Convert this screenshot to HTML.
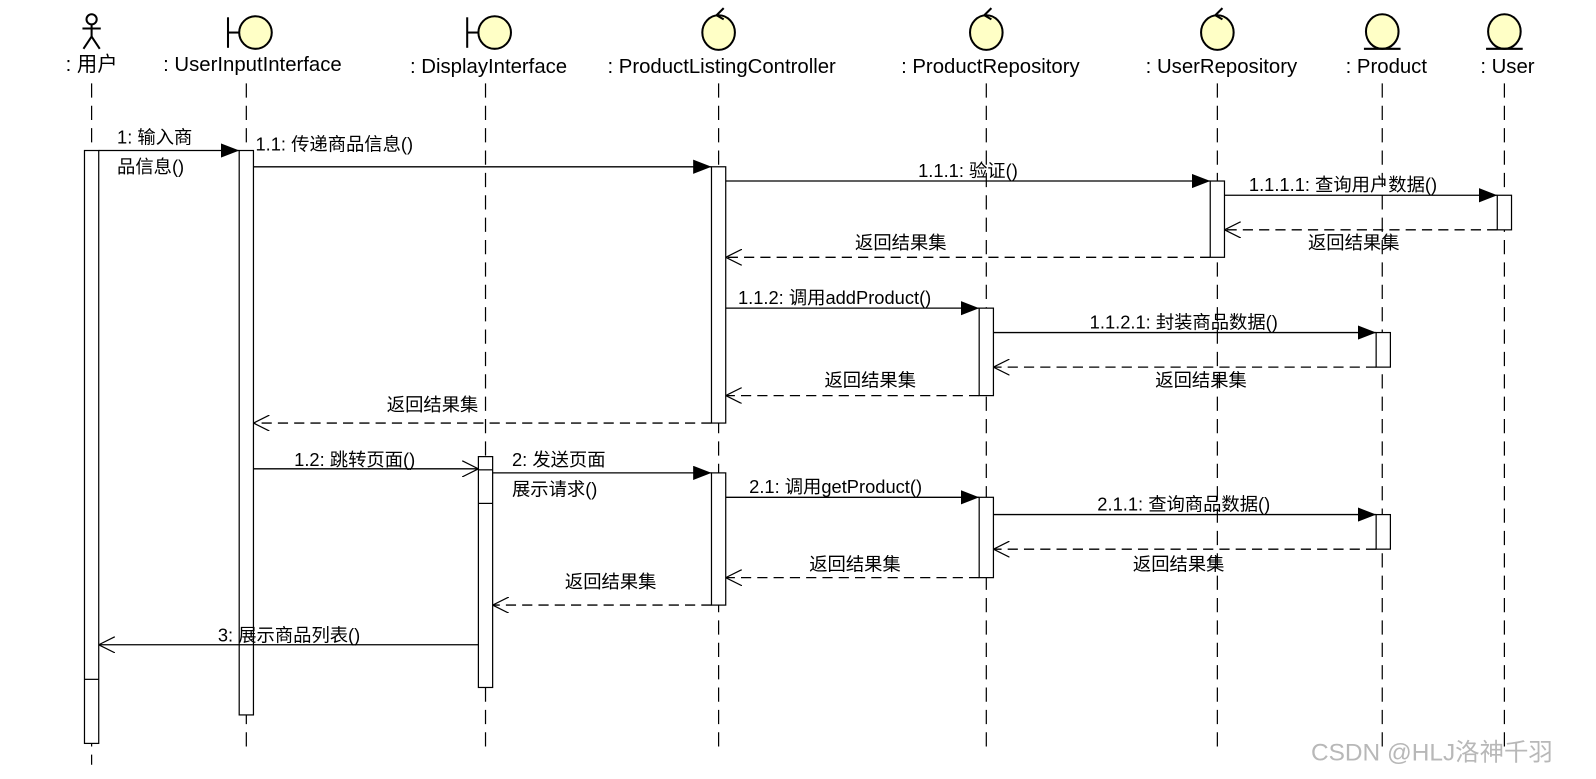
<!DOCTYPE html>
<html><head><meta charset="utf-8"><style>
html,body{margin:0;padding:0;background:#fff;width:1596px;height:779px;overflow:hidden}
svg{display:block}
text{font-family:"Liberation Sans","Noto Sans CJK SC",sans-serif;fill:#000}
</style></head><body>
<svg width="1596" height="779" viewBox="0 0 1568 766" preserveAspectRatio="none">
<defs>
<marker id="f" markerWidth="18" markerHeight="14" refX="18" refY="7" orient="auto" markerUnits="userSpaceOnUse"><path d="M0,0 L18,7 L0,14 Z" fill="#000"/></marker>
<marker id="o" markerWidth="16" markerHeight="16" refX="16" refY="8" orient="auto" markerUnits="userSpaceOnUse"><path d="M0,0 L16,8 L0,16" fill="none" stroke="#000" stroke-width="1.2"/></marker>
</defs>
<g stroke="#000" stroke-width="1.2" stroke-dasharray="14,8" fill="none">
<line x1="90" y1="82" x2="90" y2="752"/><line x1="242" y1="82" x2="242" y2="740"/>
<line x1="477" y1="82" x2="477" y2="740"/><line x1="706" y1="82" x2="706" y2="740"/>
<line x1="969" y1="82" x2="969" y2="740"/><line x1="1196" y1="82" x2="1196" y2="740"/>
<line x1="1358" y1="82" x2="1358" y2="740"/><line x1="1478" y1="82" x2="1478" y2="740"/>
</g>
<!-- heads -->
<g stroke="#000" stroke-width="2" fill="#ffffc6">
<circle cx="90" cy="19" r="5" fill="#fff"/>
<line x1="90" y1="24" x2="90" y2="36"/><line x1="81" y1="28" x2="99" y2="28"/>
<line x1="90" y1="36" x2="82" y2="48"/><line x1="90" y1="36" x2="98" y2="48"/>
<line x1="224" y1="17" x2="224" y2="47"/><line x1="224" y1="32" x2="235" y2="32"/><circle cx="251" cy="32" r="16"/>
<line x1="459" y1="17" x2="459" y2="47"/><line x1="459" y1="32" x2="470" y2="32"/><circle cx="486" cy="32" r="16"/>
<ellipse cx="706" cy="32" rx="16" ry="17"/><path d="M704,15 L711,8 M704,15 L711,19" fill="none"/>
<ellipse cx="969" cy="32" rx="16" ry="17"/><path d="M967,15 L974,8 M967,15 L974,19" fill="none"/>
<ellipse cx="1196" cy="32" rx="16" ry="17"/><path d="M1194,15 L1201,8 M1194,15 L1201,19" fill="none"/>
<ellipse cx="1358" cy="31" rx="16" ry="17"/><line x1="1340" y1="48" x2="1376" y2="48"/>
<ellipse cx="1478" cy="31" rx="16" ry="17"/><line x1="1460" y1="48" x2="1496" y2="48"/>
</g>
<g font-size="20" text-anchor="middle">
<text x="90" y="70">: 用户</text><text x="248" y="70">: UserInputInterface</text>
<text x="480" y="72">: DisplayInterface</text><text x="709" y="72">: ProductListingController</text>
<text x="973" y="72">: ProductRepository</text><text x="1200" y="72">: UserRepository</text>
<text x="1362" y="72">: Product</text><text x="1481" y="72">: User</text>
</g>
<!-- activations -->
<g stroke="#000" stroke-width="1.2" fill="#fff">
<rect x="83" y="148" width="14" height="583"/><line x1="83" y1="668" x2="97" y2="668"/>
<rect x="235" y="148" width="14" height="555"/>
<rect x="470" y="449" width="14" height="227"/><line x1="470" y1="462" x2="484" y2="462"/><line x1="470" y1="495" x2="484" y2="495"/>
<rect x="699" y="164" width="14" height="252"/><rect x="699" y="465" width="14" height="130"/>
<rect x="1189" y="178" width="14" height="75"/><rect x="1471" y="192" width="14" height="34"/>
<rect x="962" y="303" width="14" height="86"/><rect x="962" y="489" width="14" height="79"/>
<rect x="1352" y="327" width="14" height="34"/><rect x="1352" y="506" width="14" height="34"/>
</g>
<!-- messages -->
<g stroke="#000" stroke-width="1.3" fill="none">
<line x1="97" y1="148" x2="235" y2="148" marker-end="url(#f)"/>
<line x1="249" y1="164" x2="699" y2="164" marker-end="url(#f)"/>
<line x1="713" y1="178" x2="1189" y2="178" marker-end="url(#f)"/>
<line x1="1203" y1="192" x2="1471" y2="192" marker-end="url(#f)"/>
<line x1="713" y1="303" x2="962" y2="303" marker-end="url(#f)"/>
<line x1="976" y1="327" x2="1352" y2="327" marker-end="url(#f)"/>
<line x1="249" y1="461" x2="470" y2="461" marker-end="url(#o)"/>
<line x1="484" y1="465" x2="699" y2="465" marker-end="url(#f)"/>
<line x1="713" y1="489" x2="962" y2="489" marker-end="url(#f)"/>
<line x1="976" y1="506" x2="1352" y2="506" marker-end="url(#f)"/>
<line x1="470" y1="634" x2="97" y2="634" marker-end="url(#o)"/>
<g stroke-dasharray="10,6">
<line x1="1471" y1="226" x2="1203" y2="226" marker-end="url(#o)"/>
<line x1="1189" y1="253" x2="713" y2="253" marker-end="url(#o)"/>
<line x1="1352" y1="361" x2="976" y2="361" marker-end="url(#o)"/>
<line x1="962" y1="389" x2="713" y2="389" marker-end="url(#o)"/>
<line x1="699" y1="416" x2="249" y2="416" marker-end="url(#o)"/>
<line x1="1352" y1="540" x2="976" y2="540" marker-end="url(#o)"/>
<line x1="962" y1="568" x2="713" y2="568" marker-end="url(#o)"/>
<line x1="699" y1="595" x2="484" y2="595" marker-end="url(#o)"/>
</g>
</g>
<g font-size="18">
<text x="115" y="141">1: 输入商</text><text x="115" y="170">品信息()</text>
<text x="251" y="148">1.1: 传递商品信息()</text>
<text x="951" y="174" text-anchor="middle">1.1.1: 验证()</text>
<text x="1227" y="188">1.1.1.1: 查询用户数据()</text>
<text x="1330" y="245" text-anchor="middle">返回结果集</text>
<text x="885" y="245" text-anchor="middle">返回结果集</text>
<text x="725" y="299">1.1.2: 调用addProduct()</text>
<text x="1163" y="323" text-anchor="middle">1.1.2.1: 封装商品数据()</text>
<text x="1180" y="380" text-anchor="middle">返回结果集</text>
<text x="855" y="380" text-anchor="middle">返回结果集</text>
<text x="425" y="404" text-anchor="middle">返回结果集</text>
<text x="289" y="458">1.2: 跳转页面()</text>
<text x="503" y="458">2: 发送页面</text><text x="503" y="487">展示请求()</text>
<text x="736" y="485">2.1: 调用getProduct()</text>
<text x="1163" y="502" text-anchor="middle">2.1.1: 查询商品数据()</text>
<text x="1158" y="561" text-anchor="middle">返回结果集</text>
<text x="840" y="561" text-anchor="middle">返回结果集</text>
<text x="600" y="578" text-anchor="middle">返回结果集</text>
<text x="284" y="631" text-anchor="middle">3: 展示商品列表()</text>
</g>
<text x="1288" y="748" font-size="24" style="fill:#b8b8b8">CSDN @HLJ洛神千羽</text>
</svg>
</body></html>
